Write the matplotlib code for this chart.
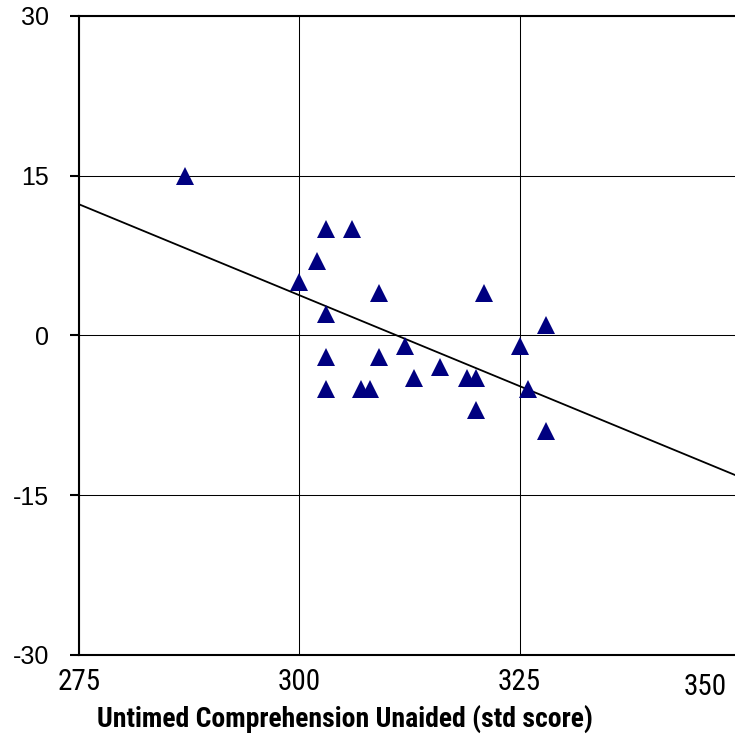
# diagrama de dispersion con linea de tendencia
import matplotlib
matplotlib.use("Agg")
import matplotlib.pyplot as plt

# datos
comprension = [287, 303, 306, 302, 300, 309, 321, 303, 312, 303, 309, 313,
               316, 319, 320, 303, 307, 308, 320, 328, 325, 326, 328]
diferencia = [15, 10, 10, 7, 5, 4, 4, 2, -1, -2, -2, -4,
              -3, -4, -4, -5, -5, -5, -7, 1, -1, -5, -9]

# linea de tendencia (extremos)
tendencia_x = [275, 350]
tendencia_y = [12.3, -13.3]

x_ticks = [275, 300, 325, 350]
y_ticks = [-30, -15, 0, 15, 30]
x_titulo = "Untimed Comprehension Unaided (std score)"

plt.rcParams["font.family"] = ["Liberation Sans", "DejaVu Sans"]
plt.rcParams["axes.unicode_minus"] = False

# fuente estrecha parecida a Arial Narrow
narrow = ["Roboto Condensed", "PT Sans Narrow", "DejaVu Sans"]

W, H = 735, 736
fig = plt.figure(figsize=(W / 100, H / 100), dpi=100)
ax = fig.add_axes([79 / W, 81 / H, (740 - 79) / W, (720.3 - 81) / H])

ax.set_xlim(275, 350)
ax.set_ylim(-30, 30)
ax.set_xticks(x_ticks)
ax.set_xticklabels([str(v) for v in x_ticks[:-1]] + [""], family=narrow,
                   fontsize=21)
ax.set_yticks(y_ticks)
ax.grid(True, color="black", linewidth=0.75)
ax.set_axisbelow(True)

ax.plot(tendencia_x, tendencia_y, color="black", linewidth=1.3, zorder=2)
ax.plot(comprension, diferencia, linestyle="none", marker="^", markersize=12.5,
        color="#000080", markeredgewidth=0, zorder=3)

for s in ax.spines.values():
    s.set_linewidth(1.5)
    s.set_color("black")

ax.tick_params(axis="y", direction="out", length=6.5, width=1.5, pad=15,
               labelsize=18)
ax.tick_params(axis="x", length=0, pad=9)

# la etiqueta 350 queda en el borde, la ponemos a mano
fig.text(705 / W, 1 - 687 / H, str(x_ticks[-1]), ha="center", va="center",
         fontsize=21, family=narrow)

fig.text(345 / W, 1 - 719 / H, x_titulo, ha="center", va="center",
         fontsize=20, fontweight="bold", family=narrow)

fig.savefig("out.png", dpi=100)
